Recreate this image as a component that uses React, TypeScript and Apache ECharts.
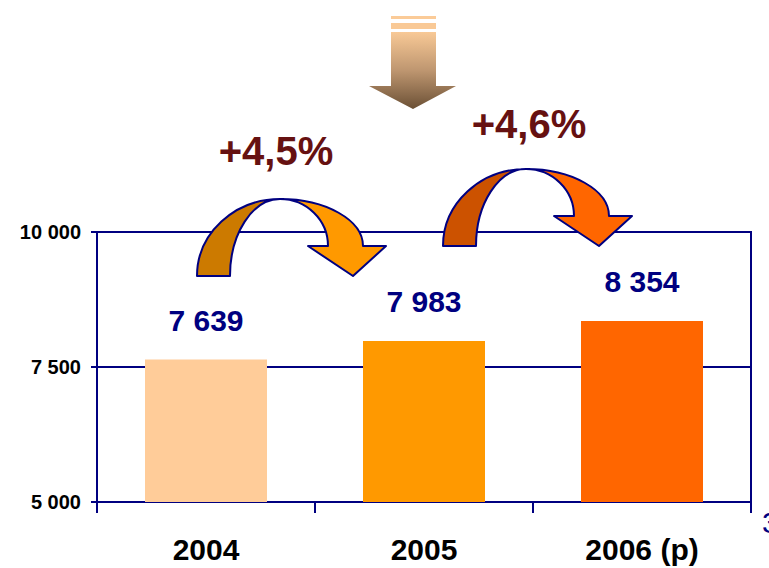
import React, { useEffect, useRef } from "react";
import * as echarts from "echarts";

const categories = ["2004", "2005", "2006 (p)"];
const values = [7639, 7983, 8354];
const barColors = ["#FFCC99", "#FF9900", "#FF6600"];
const yTicks = [5000, 7500, 10000];
const growthLabels = ["+4,5%", "+4,6%"];

const FONT = "'Liberation Sans', Arial, Helvetica, sans-serif";
const NAVY = "#000080";

const fmt = (v: number) => {
  const s = String(Math.round(v));
  return s.replace(/\B(?=(\d{3})+(?!\d))/g, " ");
};

// curved arrow shapes (local coordinates, origin at left-outer bottom)
const arcLeftD = "M0,0 C0,-42.4 37.4,-77 83,-77 C55.5,-77 33,-42.4 33,0 Z";
const arcRightD =
  "M83,-77 C128.6,-77 166,-56 166,-30 L189,-30 L156,0 L111,-30 L131,-30 C131,-56 109.4,-77 83,-77 Z";
echarts.graphic.registerShape("arcLeft", echarts.graphic.extendPath(arcLeftD, {}));
echarts.graphic.registerShape("arcRight", echarts.graphic.extendPath(arcRightD, {}));

export default function App() {
  const ref = useRef<HTMLDivElement>(null);
  useEffect(() => {
    if (!ref.current) return;
    const chart = echarts.init(ref.current, null, { renderer: "svg" });

    const arrow = (x: number, y: number, cl: string, cr: string) => [
      {
        type: "arcRight",
        x,
        y,
        z: 100,
        style: { fill: cr, stroke: NAVY, lineWidth: 2, lineJoin: "round" },
      },
      {
        type: "arcLeft",
        x,
        y,
        z: 101,
        style: { fill: cl, stroke: NAVY, lineWidth: 2, lineJoin: "round" },
      },
    ];

    const downGrad = new echarts.graphic.LinearGradient(0, 0, 0, 1, [
      { offset: 0, color: "#F8C996" },
      { offset: 0.5, color: "#BE9670" },
      { offset: 1, color: "#6B5035" },
    ]);

    chart.setOption({
      animation: false,
      backgroundColor: "#ffffff",
      grid: {
        left: 97,
        right: 18,
        top: 232,
        bottom: 66,
        show: true,
        borderColor: NAVY,
        borderWidth: 2,
        backgroundColor: "transparent",
      },
      xAxis: {
        type: "category",
        data: categories,
        boundaryGap: true,
        axisLine: { show: true, lineStyle: { color: NAVY, width: 2 } },
        axisTick: { show: true, length: 11, lineStyle: { color: NAVY, width: 2 } },
        axisLabel: {
          color: "#000000",
          fontFamily: FONT,
          fontWeight: "bold",
          fontSize: 30,
          margin: 32,
        },
      },
      yAxis: {
        type: "value",
        min: yTicks[0],
        max: yTicks[yTicks.length - 1],
        interval: yTicks[1] - yTicks[0],
        axisLine: { show: true, lineStyle: { color: NAVY, width: 2 } },
        axisTick: { show: true, length: 6, lineStyle: { color: NAVY, width: 2 } },
        splitLine: { show: true, lineStyle: { color: NAVY, width: 2 } },
        axisLabel: {
          color: "#000000",
          fontFamily: FONT,
          fontWeight: "bold",
          fontSize: 20,
          margin: 16,
          formatter: (v: number) => fmt(v),
        },
      },
      series: [
        {
          type: "bar",
          barWidth: 122,
          data: values.map((v, i) => ({ value: v, itemStyle: { color: barColors[i] } })),
          label: {
            show: true,
            position: "top",
            distance: 24,
            color: NAVY,
            fontFamily: FONT,
            fontWeight: "bold",
            fontSize: 30,
            formatter: (p: any) => fmt(p.value),
          },
        },
      ],
      graphic: [
        // top down arrow
        { type: "rect", z: 100, shape: { x: 391, y: 16, width: 45, height: 3 }, style: { fill: "#FBCB98" } },
        { type: "rect", z: 100, shape: { x: 391, y: 23, width: 45, height: 6 }, style: { fill: "#F9C996" } },
        {
          type: "polygon",
          z: 100,
          shape: {
            points: [
              [391, 32],
              [436, 32],
              [436, 86],
              [456, 86],
              [413, 109],
              [369, 86],
              [391, 86],
            ],
          },
          style: { fill: downGrad },
        },
        ...arrow(197, 276, "#CC7A00", "#FF9900"),
        ...arrow(443, 246, "#CC5200", "#FF6600"),
        {
          type: "text",
          z: 102,
          x: 276,
          y: 151,
          style: {
            text: growthLabels[0],
            fill: "#661111",
            font: `bold 40px ${FONT}`,
            align: "center",
            verticalAlign: "middle",
          },
        },
        {
          type: "text",
          z: 102,
          x: 529,
          y: 124,
          style: {
            text: growthLabels[1],
            fill: "#661111",
            font: `bold 40px ${FONT}`,
            align: "center",
            verticalAlign: "middle",
          },
        },
        {
          type: "text",
          z: 102,
          x: 762,
          y: 522,
          style: {
            text: "3",
            fill: NAVY,
            font: `30px ${FONT}`,
            align: "left",
            verticalAlign: "middle",
          },
        },
      ],
    });
    return () => chart.dispose();
  }, []);
  return (
    <div
      ref={ref}
      style={{ position: "fixed", left: 0, top: 0, width: 769, height: 568 }}
    />
  );
}
